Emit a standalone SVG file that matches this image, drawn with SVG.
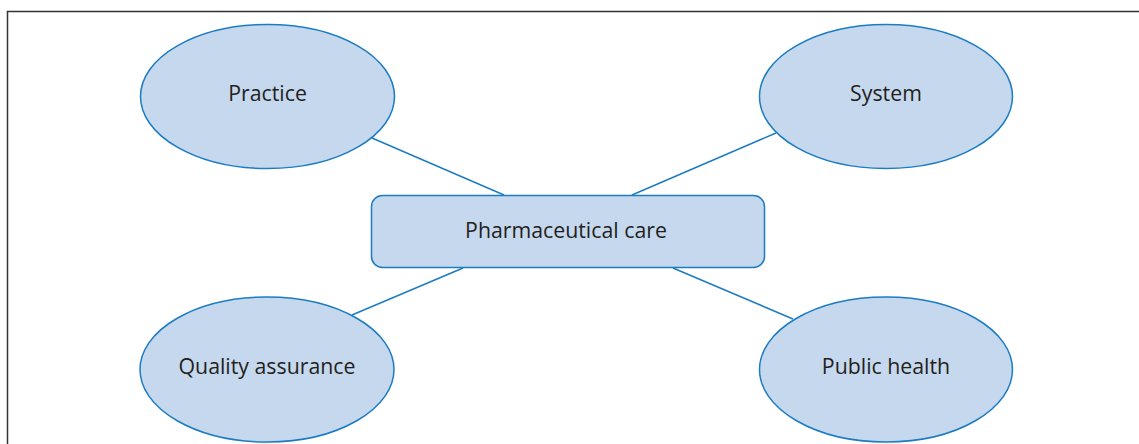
<svg xmlns="http://www.w3.org/2000/svg" width="1139" height="444" viewBox="0 0 1139 444">
<style>
.node{fill:#c6d8ee;stroke:#1b7cc2;stroke-width:1.5}
.lbl{font-family:"Open Sans","Noto Sans",sans-serif;font-size:21.3px;fill:#231f20;text-anchor:middle}
.conn line{stroke:#1b7cc2;stroke-width:1.5}
</style>
<rect width="1139" height="444" fill="#ffffff"/>
<path d="M7.5 444 V11.5 H1139" fill="none" stroke="#333333" stroke-width="1.5"/>
<g id="connectors" class="conn">
<line x1="372" y1="138" x2="504" y2="195"/>
<line x1="776" y1="133" x2="632" y2="195"/>
<line x1="463" y1="268" x2="352" y2="315"/>
<line x1="673" y1="268" x2="793" y2="319"/>
</g>
<g id="practice">
<ellipse class="node" cx="267.5" cy="96.5" rx="127" ry="72"/>
<text class="lbl" x="267.5" y="101">Practice</text>
</g>
<g id="system">
<ellipse class="node" cx="886" cy="96.5" rx="126.5" ry="72"/>
<text class="lbl" x="886" y="101">System</text>
</g>
<g id="quality-assurance">
<ellipse class="node" cx="267" cy="369.5" rx="127" ry="72.5"/>
<text class="lbl" x="267" y="374">Quality assurance</text>
</g>
<g id="public-health">
<ellipse class="node" cx="886" cy="369.5" rx="126.5" ry="72.5"/>
<text class="lbl" x="886" y="374">Public health</text>
</g>
<g id="pharmaceutical-care">
<rect class="node" x="371.5" y="195.5" width="393" height="72" rx="11"/>
<text class="lbl" x="566" y="238">Pharmaceutical care</text>
</g>
</svg>
